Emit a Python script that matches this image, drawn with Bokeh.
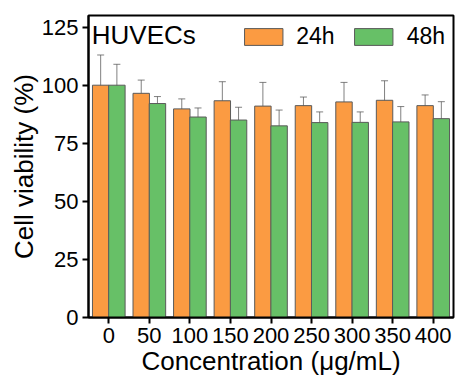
from bokeh.plotting import figure
from bokeh.models import (ColumnDataSource, FactorRange, Range1d, FixedTicker, Whisker,
                          TeeHead, Legend, LegendItem, Label)
from bokeh.transform import dodge
from bokeh.embed import file_html
from bokeh.resources import INLINE

categories = ["0", "50", "100", "150", "200", "250", "300", "350", "400"]
viab_24h = [100.0, 96.5, 89.8, 93.3, 91.0, 91.2, 92.8, 93.5, 91.2]
err_24h = [13.0, 5.7, 4.3, 8.2, 10.2, 3.7, 8.4, 8.4, 4.6]
viab_48h = [100.0, 92.1, 86.3, 85.0, 82.5, 83.9, 84.0, 84.2, 85.6]
err_48h = [9.0, 3.0, 3.9, 5.5, 6.8, 4.6, 4.5, 6.6, 7.3]
y_ticks = [0, 25, 50, 75, 100, 125]

ORANGE = "#FB9B42"
GREEN = "#67C067"
FONT = "Liberation Sans"

src = ColumnDataSource(dict(
    cat=categories,
    v24=viab_24h, lo24=[v - e for v, e in zip(viab_24h, err_24h)], hi24=[v + e for v, e in zip(viab_24h, err_24h)],
    v48=viab_48h, lo48=[v - e for v, e in zip(viab_48h, err_48h)], hi48=[v + e for v, e in zip(viab_48h, err_48h)],
))

p = figure(width=460, height=381, x_range=FactorRange(*categories), y_range=Range1d(0, 130),
           output_backend="svg", toolbar_location=None,
           min_border_left=88, min_border_right=7, min_border_top=15, min_border_bottom=64)

bw = 0.405
r24 = p.vbar(x=dodge("cat", -0.2, range=p.x_range), top="v24", width=bw, source=src,
             fill_color=ORANGE, line_color="#5a5a5a", line_width=1)
r48 = p.vbar(x=dodge("cat", 0.2, range=p.x_range), top="v48", width=bw, source=src,
             fill_color=GREEN, line_color="#5a5a5a", line_width=1)

for off, lo, hi in [(-0.2, "lo24", "hi24"), (0.2, "lo48", "hi48")]:
    w = Whisker(base=dodge("cat", off, range=p.x_range), lower=lo, upper=hi, source=src,
                line_color="#555555", line_alpha=0.75, line_width=1,
                upper_head=TeeHead(size=7, line_color="#555555", line_alpha=0.75, line_width=1),
                lower_head=TeeHead(size=7, line_color="#555555", line_alpha=0.75, line_width=1))
    p.add_layout(w)

legend = Legend(items=[LegendItem(label="24h", renderers=[r24]), LegendItem(label="48h", renderers=[r48])],
                location="top_right", orientation="horizontal",
                glyph_width=48, glyph_height=21, label_text_font=FONT, label_text_font_size="23px",
                label_text_color="black",
                label_standoff=9, spacing=15, padding=0, margin=8,
                border_line_color=None, background_fill_alpha=0)
p.add_layout(legend)

p.add_layout(Label(x=0.08, y=121.5, text="HUVECs", text_font=FONT, text_font_size="26px",
                   text_color="black", text_baseline="middle"))

p.xgrid.grid_line_color = None
p.ygrid.grid_line_color = None
p.outline_line_color = "black"
p.outline_line_width = 2

p.yaxis.ticker = FixedTicker(ticks=y_ticks)
p.yaxis.axis_label = "Cell viability (%)"
p.xaxis.axis_label = "Concentration (μg/mL)"
for ax in (p.xaxis, p.yaxis):
    ax.axis_line_width = 2
    ax.axis_line_color = "black"
    ax.major_tick_line_width = 2
    ax.major_tick_in = 0
    ax.major_tick_out = 6
    ax.minor_tick_line_color = None
    ax.major_label_text_font = FONT
    ax.major_label_text_font_size = "22px"
    ax.major_label_text_color = "black"
    ax.axis_label_text_font = FONT
    ax.axis_label_text_font_size = "26px"
    ax.axis_label_text_font_style = "normal"
    ax.axis_label_text_color = "black"
    ax.axis_label_standoff = 0
    ax.major_label_standoff = 4
p.xaxis.group_text_font_size = "0px"

open("out.html", "w").write(file_html(p, INLINE))
